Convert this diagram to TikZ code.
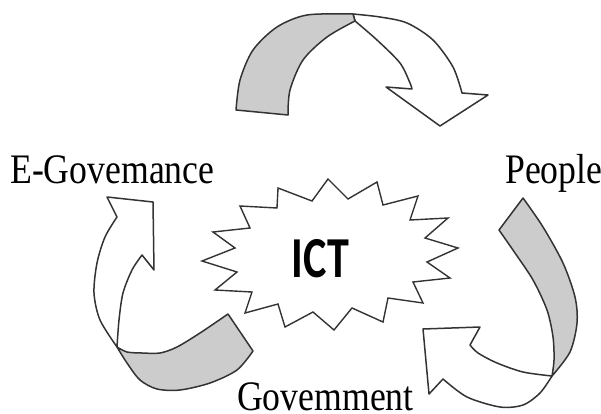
\documentclass[tikz,border=0pt]{standalone}
\usepackage{fontspec}
\usepackage{graphicx}
\setmainfont{Liberation Serif}
\newfontfamily\ictfont{Carlito}
\tikzset{
  ribbon/.style={draw=black!80, line width=1.5pt, line join=round},
  grayband/.style={ribbon, fill=gray!40},
  whiteband/.style={ribbon, fill=white},
  burst/.style={draw=black!80, line width=1.4pt, line join=miter, fill=white},
  lbl/.style={inner sep=0pt, anchor=base west, font=\fontsize{42}{42}\selectfont},
  ictlbl/.style={inner sep=0pt, anchor=center, font=\ictfont\bfseries\fontsize{58}{58}\selectfont}
}
\begin{document}
\begin{tikzpicture}[x=1pt,y=-1pt]
\useasboundingbox (0,0) rectangle (601,414);

% ---------- top arrow (E-Governance -> People) ----------
\path[whiteband] plot[smooth] coordinates {(353,14) (380,17) (407,23) (433,40) (453,67) (462,93)}
  -- (488,95) -- (440,126) -- (386,87) -- (412,89)
  -- plot[smooth] coordinates {(412,89) (410,83) (400,63) (377,40) (355,21)} -- cycle;
\path[grayband] plot[smooth] coordinates {(236,110) (240,80) (253,50) (277,27) (307,15) (353,14)}
  -- plot[smooth] coordinates {(355,21) (327,37) (303,60) (290,90) (288,115)} -- cycle;

% ---------- right arrow (People -> Government) ----------
\path[whiteband] plot[smooth] coordinates {(552,376) (523,372) (497,363) (478,353) (470,345)}
  -- (480,327) -- (423,329) -- (429,394) -- (443,379)
  -- plot[smooth] coordinates {(443,379) (467,397) (500,407) (523,405) (540,393) (552,376)} -- cycle;
\path[grayband] (499,230) -- (523,198)
  -- plot[smooth] coordinates {(523,198) (543,227) (563,263) (575,297) (577,323) (570,352) (552,376)}
  -- plot[smooth] coordinates {(552,376) (554,360) (553,337) (547,310) (533,280) (515,253) (499,230)} -- cycle;

% ---------- left arrow (Government -> E-Governance) ----------
\path[whiteband] plot[smooth] coordinates {(117,347) (100,320) (94,293) (97,263) (105,237) (117,217)}
  -- (107,197) -- (153,202) -- (154,270) -- (142,255)
  -- plot[smooth] coordinates {(142,255) (132,270) (123,293) (119,320) (117,347)} -- cycle;
\path[grayband] (228,314) -- (253,351)
  -- plot[smooth] coordinates {(253,351) (237,370) (210,383) (180,390) (157,389) (140,380) (127,363) (117,347)}
  -- plot[smooth] coordinates {(117,347) (127,352) (142,353) (160,353) (177,347) (200,333) (228,314)} -- cycle;

% ---------- starburst ----------
\path[burst] (328,179) -- (348,199) -- (377,182) -- (383,205) -- (418,196) -- (410,220)
  -- (448,218) -- (425,238) -- (458,248) -- (427,262) -- (450,278) -- (413,282)
  -- (423,303) -- (388,298) -- (383,322) -- (352,308) -- (334,330) -- (313,312)
  -- (285,327) -- (278,304) -- (245,313) -- (252,292) -- (215,290) -- (237,272)
  -- (202,261) -- (235,248) -- (213,232) -- (250,228) -- (240,206) -- (277,208)
  -- (278,188) -- (312,201) -- cycle;
\node[ictlbl] (ict) at (320.5,258.5) {\scalebox{0.76}[1]{ICT}};

% ---------- labels ----------
\node[lbl] (egov) at (10,183) {\scalebox{0.85}[1]{E-Govemance}};
\node[lbl] (people) at (505,183) {\scalebox{0.85}[1]{People}};
\node[lbl] (govt) at (237,410) {\scalebox{0.85}[1]{Govemment}};
\end{tikzpicture}
\end{document}
